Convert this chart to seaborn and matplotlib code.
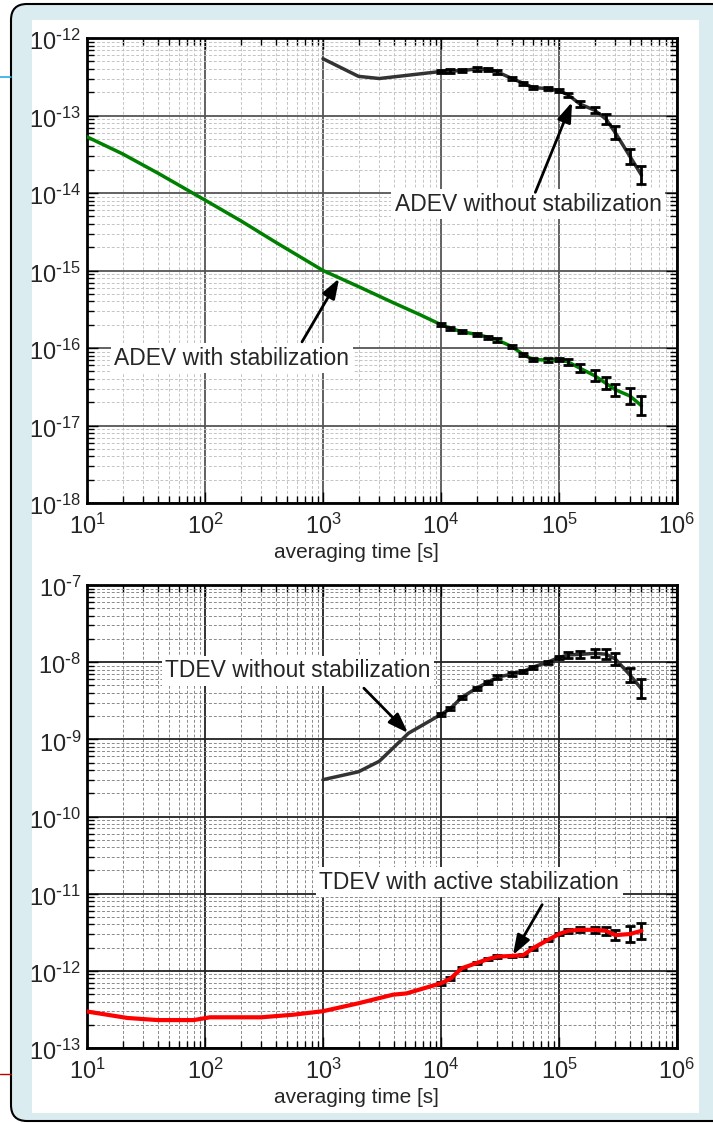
import numpy as np
import matplotlib
matplotlib.use("Agg")
import matplotlib.pyplot as plt
from matplotlib.patches import FancyBboxPatch, Rectangle
from matplotlib.lines import Line2D
from matplotlib.ticker import LogLocator, FuncFormatter, NullFormatter
from matplotlib.transforms import ScaledTranslation
import seaborn as sns

# averaging times where error bars are shown (shared by all four curves)
tau_err = [1e4, 1.2e4, 1.5e4, 2e4, 2.5e4, 3e4, 4e4, 5e4, 6e4, 8e4,
           1e5, 1.2e5, 1.5e5, 2e5, 2.5e5, 3e5, 4e5, 5e5]

# ADEV with stabilization (green)
tau_adev_stab = [10, 20, 40, 100, 200, 400, 1000, 2000, 4000, 6600]
adev_stab_short = [5.3e-14, 3.2e-14, 1.8e-14, 8.1e-15, 4.4e-15, 2.3e-15,
                   1.0e-15, 6.2e-16, 3.8e-16, 2.7e-16]
adev_stab_err = [2.0e-16, 1.8e-16, 1.62e-16, 1.5e-16, 1.38e-16, 1.27e-16,
                 1.04e-16, 8.2e-17, 7.1e-17, 7.0e-17, 7.1e-17, 6.6e-17,
                 5.5e-17, 4.4e-17, 3.5e-17, 2.9e-17, 2.4e-17, 1.8e-17]
adev_stab_fac = [1.05] * 11 + [1.08, 1.13, 1.18, 1.19, 1.19, 1.26, 1.32]

# ADEV without stabilization (dark grey)
tau_adev_free = [1000, 2000, 3000]
adev_free_short = [5.4e-13, 3.2e-13, 3.0e-13]
adev_free_err = [3.7e-13, 3.75e-13, 3.8e-13, 3.98e-13, 3.95e-13, 3.65e-13,
                 3.0e-13, 2.6e-13, 2.3e-13, 2.22e-13, 2.09e-13, 1.84e-13,
                 1.41e-13, 1.17e-13, 9.0e-14, 6.0e-14, 2.95e-14, 1.7e-14]
adev_free_fac = [1.05] * 12 + [1.10, 1.09, 1.15, 1.21, 1.24, 1.30]

# TDEV without stabilization (dark grey)
tau_tdev_free = [1000, 2000, 3000, 5300]
tdev_free_short = [3.0e-10, 3.8e-10, 5.2e-10, 1.2e-9]
tdev_free_err = [2.1e-9, 2.5e-9, 3.5e-9, 4.6e-9, 5.5e-9, 6.4e-9, 7.0e-9,
                 7.6e-9, 8.6e-9, 1.0e-8, 1.15e-8, 1.24e-8, 1.26e-8, 1.3e-8,
                 1.27e-8, 1.1e-8, 6.8e-9, 4.5e-9]
tdev_free_fac = [1.05] * 10 + [1.06, 1.09, 1.11, 1.13, 1.15, 1.19, 1.24, 1.33]

# TDEV with active stabilization (red)
tau_tdev_stab = [10, 22, 40, 80, 110, 300, 560, 1000, 2000, 3900, 5100]
tdev_stab_short = [2.97e-13, 2.45e-13, 2.3e-13, 2.3e-13, 2.5e-13, 2.5e-13,
                   2.7e-13, 3.0e-13, 3.8e-13, 4.9e-13, 5.1e-13]
tdev_stab_err = [6.9e-13, 7.9e-13, 1.08e-12, 1.26e-12, 1.42e-12, 1.53e-12,
                 1.56e-12, 1.6e-12, 1.96e-12, 2.5e-12, 3.0e-12, 3.3e-12,
                 3.4e-12, 3.4e-12, 3.3e-12, 2.9e-12, 3.0e-12, 3.3e-12]
tdev_stab_fac = [1.04] * 11 + [1.06, 1.08, 1.10, 1.12, 1.17, 1.26, 1.27]

# decade ticks
x_decades = [1, 2, 3, 4, 5, 6]
adev_decades = [-18, -17, -16, -15, -14, -13, -12]
tdev_decades = [-13, -12, -11, -10, -9, -8, -7]

sns.set_theme(style="ticks")
plt.rcParams["font.family"] = ["Liberation Sans", "DejaVu Sans"]
plt.rcParams["axes.unicode_minus"] = False

fig = plt.figure(figsize=(7.13, 11.23), dpi=100)
fig.patch.set_facecolor("white")

# page decoration: rounded light-blue frame with white panel (behind the axes)
inch = fig.dpi_scale_trans
fig.add_artist(FancyBboxPatch((0.11, 0.02), 7.6, 11.17,
                              boxstyle="round,pad=0,rounding_size=0.16",
                              fc="#daecf0", ec="black", lw=1.5, transform=inch,
                              zorder=-3))
fig.add_artist(Rectangle((0.32, 0.10), 6.67, 10.93, fc="white", ec="none",
                         transform=inch, zorder=-2))
fig.add_artist(Line2D([0, 0.11], [10.46, 10.46], color="#29abe2", lw=1.2,
                      transform=inch, zorder=-1))
fig.add_artist(Line2D([0, 0.11], [0.49, 0.49], color="#c00000", lw=1.0,
                      transform=inch, zorder=-1))

ax1 = fig.add_axes([87 / 713, 1 - 503 / 1123, 590 / 713, 465 / 1123])
ax2 = fig.add_axes([87 / 713, 1 - 1048 / 1123, 590 / 713, 463 / 1123])


def exp_label(v, pos):
    n = int(round(np.log10(v)))
    if n < 0:
        return r"$\mathdefault{10^{\text{-}%d}}$" % (-n)
    return r"$\mathdefault{10^{%d}}$" % n


def style_axes(ax, ydecades, minor_color, major_color):
    ax.set_xscale("log")
    ax.set_yscale("log")
    ax.set_facecolor("white")
    ax.set_xticks([10.0 ** k for k in x_decades])
    ax.set_yticks([10.0 ** k for k in ydecades])
    ax.xaxis.set_minor_locator(LogLocator(base=10, subs=np.arange(2, 10), numticks=100))
    ax.yaxis.set_minor_locator(LogLocator(base=10, subs=np.arange(2, 10), numticks=100))
    ax.xaxis.set_major_formatter(FuncFormatter(exp_label))
    ax.yaxis.set_major_formatter(FuncFormatter(exp_label))
    ax.xaxis.set_minor_formatter(NullFormatter())
    ax.yaxis.set_minor_formatter(NullFormatter())
    ax.set_xlim(10.0 ** x_decades[0], 10.0 ** x_decades[-1])
    ax.set_ylim(10.0 ** ydecades[0], 10.0 ** ydecades[-1])
    ax.grid(True, which="minor", color=minor_color, ls=(0, (3, 2)), lw=0.7, zorder=0)
    ax.grid(True, which="major", color=major_color, ls="-", lw=1.3, zorder=0)
    ax.set_axisbelow(True)
    ax.tick_params(which="both", direction="in", top=True, right=True,
                   color="black")
    ax.tick_params(which="major", length=8, width=1)
    ax.tick_params(which="minor", length=5, width=1)
    ax.tick_params(axis="x", which="major", labelsize=17, pad=8)
    ax.tick_params(axis="y", which="major", labelsize=17, pad=4)
    # y tick labels sit a little below their gridline in the original
    shift = ScaledTranslation(0, -2 / 100, fig.dpi_scale_trans)
    for t in ax.yaxis.get_major_ticks():
        t.label1.set_transform(t.label1.get_transform() + shift)
    for s in ax.spines.values():
        s.set_color("black")
        s.set_linewidth(2)
    ax.set_xlabel("averaging time [s]", fontsize=15)
    ax.xaxis.set_label_coords(0.456, -0.087)


def draw_series(ax, tau_short, short, vals, fac, color, lw, line_on_top):
    sns.lineplot(x=tau_short + tau_err, y=short + vals, ax=ax, color=color,
                 linewidth=lw, zorder=4 if line_on_top else 3)
    v = np.array(vals)
    f = np.array(fac)
    ax.errorbar(tau_err, vals, yerr=[v - v / f, v * f - v], fmt="none",
                ecolor="black", elinewidth=2, capsize=3.5, capthick=2,
                zorder=3 if line_on_top else 4)


def label(ax, text, center, tail, tip):
    ax.text(center[0], center[1], text, fontsize=16.5, ha="center", va="center",
            zorder=5, bbox=dict(boxstyle="square,pad=0.15", fc="white", ec="none"))
    ax.annotate("", xy=tip, xytext=tail, zorder=6,
                arrowprops=dict(arrowstyle="-|>,head_length=1.0,head_width=0.35",
                                color="black", lw=2, mutation_scale=12,
                                shrinkA=0, shrinkB=0))


style_axes(ax1, adev_decades, "#c4c4c4", "#555555")
draw_series(ax1, tau_adev_stab, adev_stab_short, adev_stab_err, adev_stab_fac,
            "#008000", 2.5, False)
draw_series(ax1, tau_adev_free, adev_free_short, adev_free_err, adev_free_fac,
            "#333333", 2.5, False)
label(ax1, "ADEV without stabilization", (5.46e4, 7.2e-15), (6.3e4, 1.02e-14), (1.29e5, 1.49e-13))
label(ax1, "ADEV with stabilization", (169, 7.4e-17), (664, 1.2e-16), (1.37e3, 7.9e-16))

style_axes(ax2, tdev_decades, "#8a8a8a", "#222222")
draw_series(ax2, tau_tdev_free, tdev_free_short, tdev_free_err, tdev_free_fac,
            "#333333", 2.5, False)
draw_series(ax2, tau_tdev_stab, tdev_stab_short, tdev_stab_err, tdev_stab_fac,
            "#ff0000", 3, True)
label(ax2, "TDEV without stabilization", (614, 7.7e-9), (2.22e3, 4.6e-9), (5.25e3, 1.21e-9))
label(ax2, "TDEV with active stabilization", (1.74e4, 1.40e-11), (7.2e4, 7.2e-12), (4.07e4, 1.6e-12))

fig.savefig("out.png", dpi=100, facecolor=fig.get_facecolor())
